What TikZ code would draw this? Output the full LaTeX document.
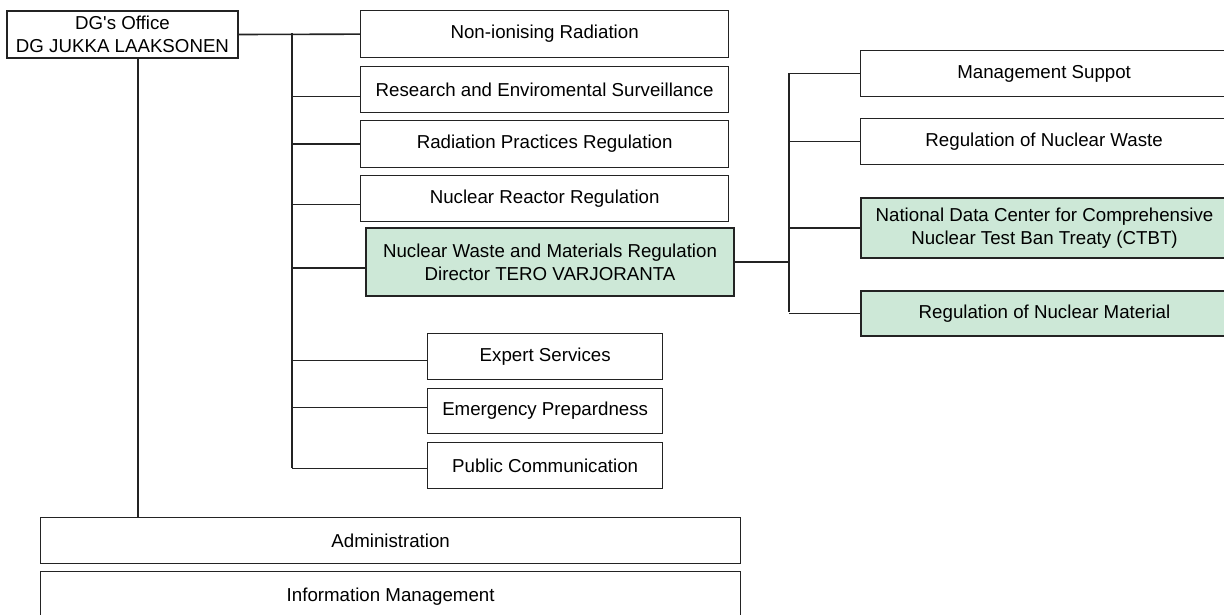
\documentclass[tikz,border=0pt]{standalone}
\usepackage{fontspec}
\setmainfont{Liberation Sans}[Ligatures=TeXOff]
\usetikzlibrary{calc}
\definecolor{mint}{RGB}{205,232,215}
\definecolor{edge}{RGB}{35,35,35}
\begin{document}
\begin{tikzpicture}[x=1pt,y=-1pt,
  font=\fontsize{18.7}{23}\selectfont,
  box/.style={draw=edge, line width=1.3pt, fill=white, inner sep=0pt,
    align=center, anchor=north west},
  gbox/.style={box, fill=mint, line width=2pt},
  link/.style={line width=1.6pt, draw=edge}]
\useasboundingbox (0,0) rectangle (1224,614);

% left column
\node[box, line width=2pt, minimum width=231pt, minimum height=47pt] (dg) at (6,10) {DG's Office\\DG JUKKA LAAKSONEN};
\node[box, minimum width=368pt, minimum height=47pt] (n1) at (360,10) {Non-ionising Radiation};
\node[box, minimum width=368pt, minimum height=46pt] (n2) at (360,66) {Research and Enviromental Surveillance};
\node[box, minimum width=368pt, minimum height=47pt] (n3) at (360,120) {Radiation Practices Regulation};
\node[box, minimum width=368pt, minimum height=46pt] (n4) at (360,175) {Nuclear Reactor Regulation};
\node[gbox, minimum width=368pt, minimum height=68pt] (n5) at (365,227) {Nuclear Waste and Materials Regulation\\Director TERO VARJORANTA};
\node[box, minimum width=235pt, minimum height=46pt] (n6) at (427,333) {Expert Services};
\node[box, minimum width=235pt, minimum height=45pt] (n7) at (427,388) {Emergency Prepardness};
\node[box, minimum width=235pt, minimum height=46pt] (n8) at (427,442) {Public Communication};
\node[box, minimum width=700pt, minimum height=46pt] (adm) at (40,517) {Administration};
\node[box, minimum width=700pt, minimum height=50pt] (inf) at (40,571) {Information Management};

% right column
\node[box, minimum width=367pt, minimum height=46pt] (r1) at (860,50) {Management Suppot};
\node[box, minimum width=367pt, minimum height=46pt] (r2) at (860,118) {Regulation of Nuclear Waste};
\node[gbox, minimum width=367pt, minimum height=60pt] (r3) at (860,197) {National Data Center for Comprehensive\\Nuclear Test Ban Treaty (CTBT)};
\node[gbox, minimum width=367pt, minimum height=45pt] (r4) at (860,290) {Regulation of Nuclear Material};

% trunk coordinates
\coordinate (lt) at (292,33);
\coordinate (lb) at (292,468);
\coordinate (dgdown) at (138,517);
\coordinate (rt) at (789,73);
\coordinate (rb) at (789,312);

% left connectors
\draw[link] (dg.east) -- (n1.west);
\draw[link] (lt) -- (lb);
\draw[link] ($(n2.west)+(0,7)$) -- ++(-68,0);
\draw[link] (n3.west) -- (n3.west -| lt);
\draw[link] ($(n4.west)+(0,6)$) -- ++(-68,0);
\draw[link] ($(n5.west)+(0,6)$) -- ++(-73,0);
\draw[link] ($(n6.west)+(0,4)$) -- ++(-135,0);
\draw[link] ($(n7.west)+(0,-3.5)$) -- ++(-135,0);
\draw[link] ($(n8.west)+(0,3)$) -- ++(-135,0);
\draw[link] (dgdown |- dg.south) -- (dgdown);

% right connectors
\draw[link] (n5.east) -- (n5.east -| rt);
\draw[link] (rt) -- (rb);
\draw[link] (r1.west) -- (r1.west -| rt);
\draw[link] (r2.west) -- (r2.west -| rt);
\draw[link] (r3.west) -- (r3.west -| rt);
\draw[link] (r4.west) -- (r4.west -| rt);
\end{tikzpicture}
\end{document}
